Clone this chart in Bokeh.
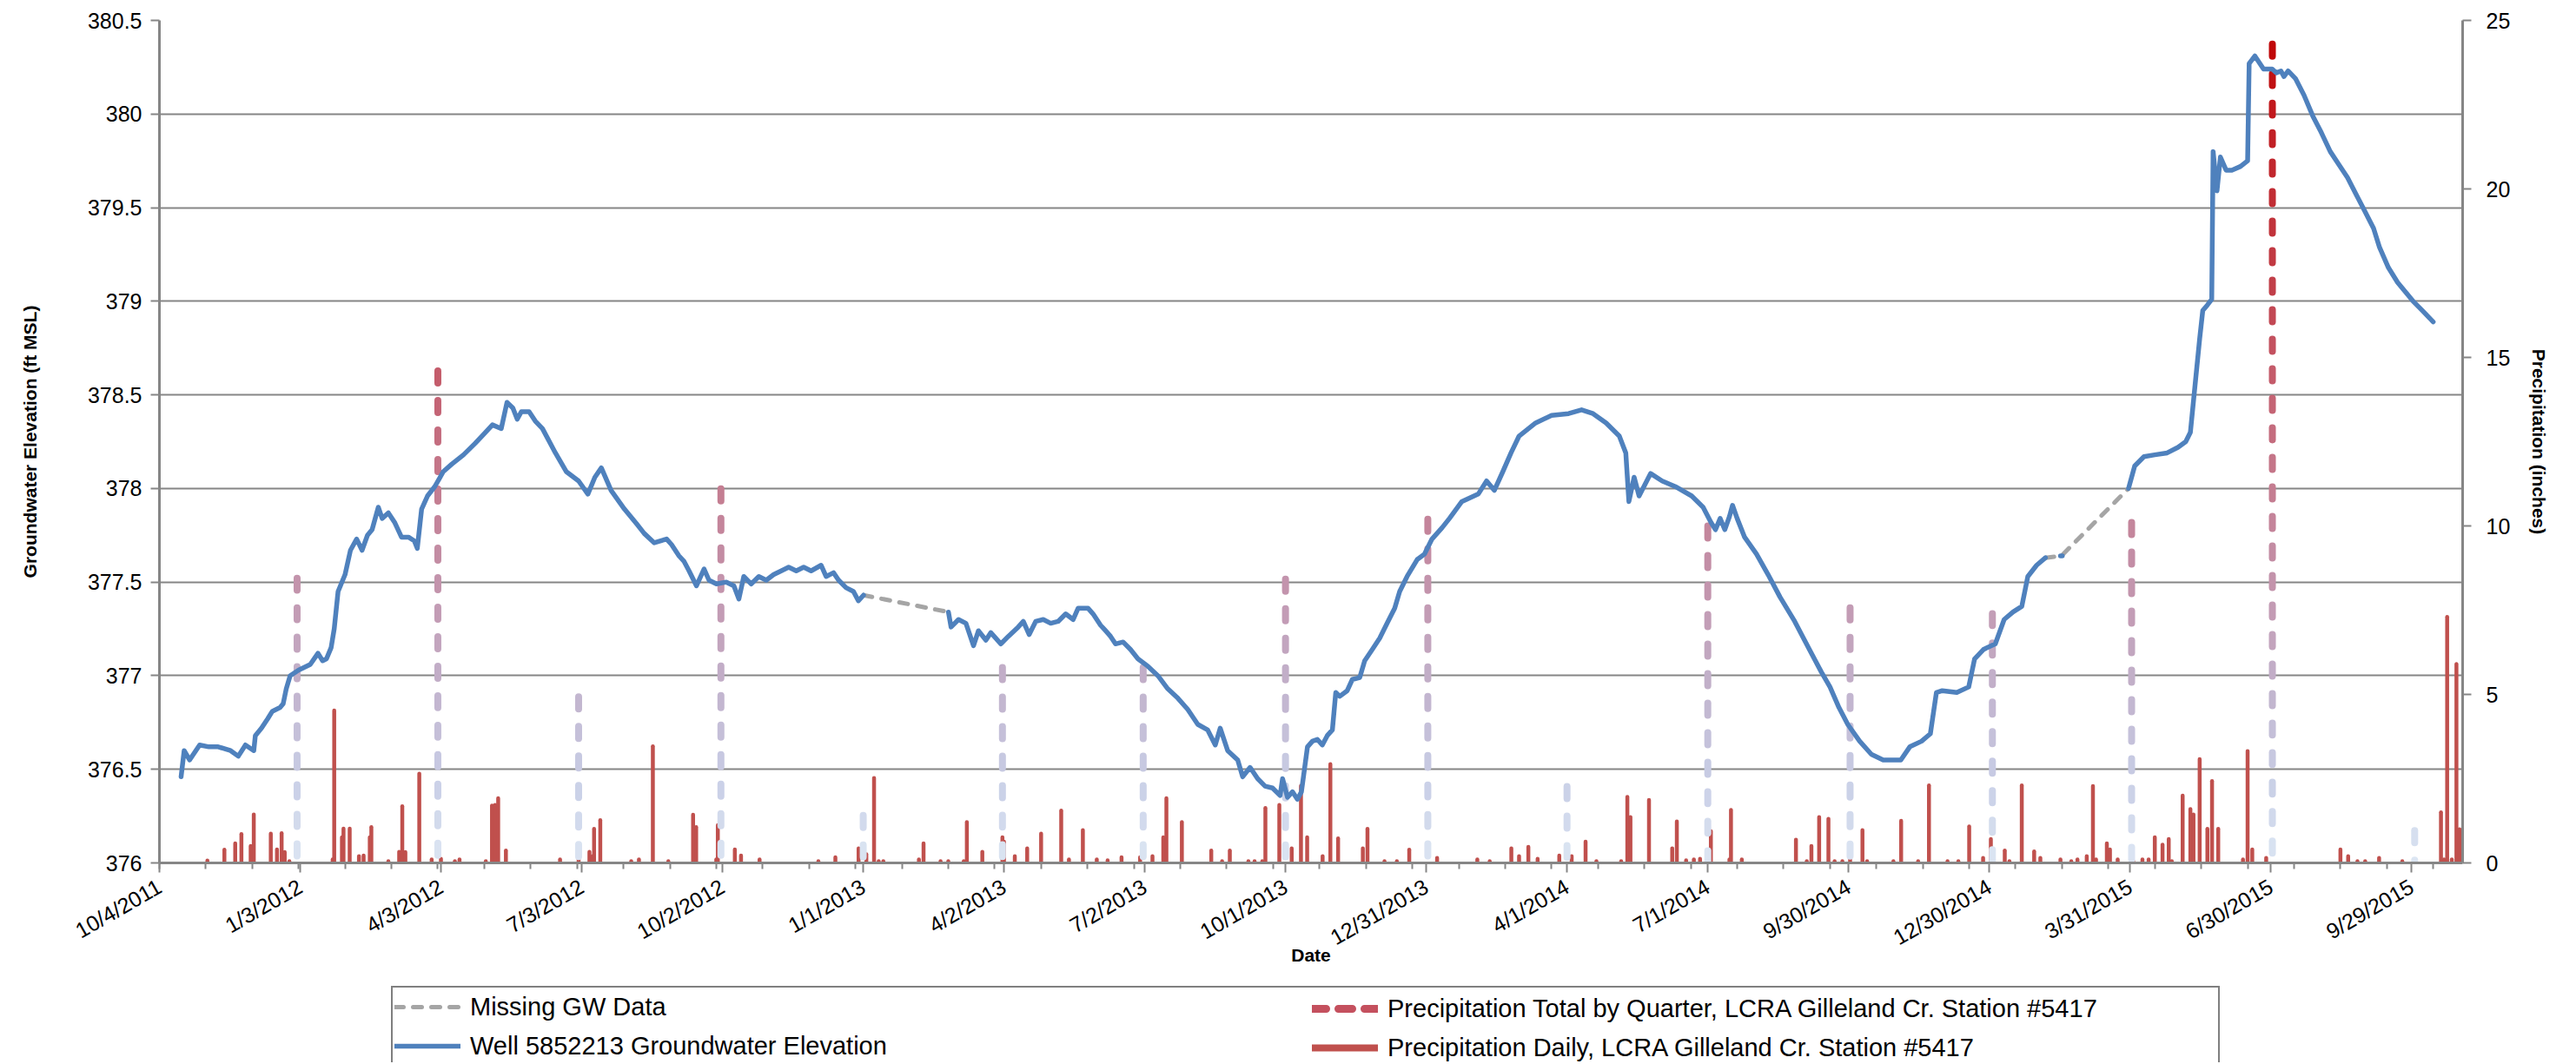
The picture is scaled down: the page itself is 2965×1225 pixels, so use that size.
import math
import numpy as np
from bokeh.plotting import figure
from bokeh.layouts import column
from bokeh.models import (Range1d, LinearAxis, FixedTicker, Legend, LegendItem,
                          ColumnDataSource)
from bokeh.embed import file_html
from bokeh.resources import INLINE

# ---------------- data (x = days since 10/4/2011) ----------------
X_MIN, X_MAX = 0, 1489
DATE_TICK_DAYS = [0, 91, 182, 273, 364, 455, 546, 637, 728, 819, 910, 1001, 1092, 1183, 1274, 1365, 1456]
DATE_TICK_LABELS = ["10/4/2011", "1/3/2012", "4/3/2012", "7/3/2012", "10/2/2012", "1/1/2013",
                    "4/2/2013", "7/2/2013", "10/1/2013", "12/31/2013", "4/1/2014", "7/1/2014",
                    "9/30/2014", "12/30/2014", "3/31/2015", "6/30/2015", "9/29/2015"]
MINOR_TICK_DAYS = list(range(0, 1490, 30))

GW_TICKS = [376.0, 376.5, 377.0, 377.5, 378.0, 378.5, 379.0, 379.5, 380.0, 380.5]
GW_TICK_LABELS = ["376", "376.5", "377", "377.5", "378", "378.5", "379", "379.5", "380", "380.5"]
PRECIP_TICKS = [0, 5, 10, 15, 20, 25]

# Well 5852213 groundwater elevation (ft MSL), measured segments
GW_A_DAY = [14, 16, 19.5, 26, 32, 38, 46, 51, 55.6, 61, 62, 66, 70, 73, 78, 80, 82, 84.5, 90, 97.5,
            102.5, 105.5, 108, 111, 113, 115.5, 120, 123.5, 127.5, 131, 134.5, 137.5, 141.5, 144, 148,
            152, 156.5, 161, 164.8, 166.7, 169.5, 173.3, 178, 183.5, 189, 196.6, 204, 209.7, 215.3, 221,
            224.7, 228.5, 231.3, 234, 239, 243, 247.6, 256, 263, 271, 277, 281.5, 285.7, 292, 300.6,
            308.6, 313.4, 319.9, 327.9, 331.1, 335.9, 339.2, 342.4, 347.2, 352.1, 355.3, 360.1, 366.5,
            371.4, 374.6, 377.8, 382.6, 387.5, 392.3, 397.1, 402, 406.8, 411.7, 416.5, 421.3, 427.8, 431,
            435.8, 439.1, 443.9, 448.7, 451.9, 455.2]
GW_A_FT = [376.46, 376.60, 376.55, 376.63, 376.62, 376.62, 376.60, 376.57, 376.63, 376.60, 376.68, 376.72,
           376.77, 376.81, 376.83, 376.85, 376.93, 377.00, 377.03, 377.06, 377.12, 377.08, 377.09, 377.15,
           377.25, 377.45, 377.54, 377.67, 377.73, 377.67, 377.75, 377.78, 377.90, 377.84, 377.87, 377.82,
           377.74, 377.74, 377.72, 377.68, 377.89, 377.96, 378.01, 378.09, 378.13, 378.18, 378.24, 378.29,
           378.34, 378.32, 378.46, 378.43, 378.37, 378.41, 378.41, 378.36, 378.32, 378.19, 378.09, 378.04,
           377.97, 378.06, 378.11, 377.99, 377.89, 377.81, 377.76, 377.71, 377.73, 377.70, 377.64, 377.61,
           377.56, 377.48, 377.57, 377.51, 377.49, 377.50, 377.48, 377.41, 377.53, 377.49, 377.53, 377.51,
           377.54, 377.56, 377.58, 377.56, 377.58, 377.56, 377.59, 377.53, 377.55, 377.51, 377.47, 377.45,
           377.40, 377.43]
GW_B_DAY = [510.1, 511.8, 516.6, 521.4, 526.3, 529.5, 534.3, 537.5, 544, 548.8,
            555.2, 558.5, 562.3, 566.5, 571.4, 576.2, 581, 585.9, 590.7, 593.9,
            600.4, 603.6, 608.4, 611.7, 614.9, 618.1, 623, 627.8, 632.6, 639.1,
            645.5, 651.9, 658.4, 664.8, 671.3, 677.7, 682.6, 685.8, 690.6, 697.1,
            700.3, 705.1, 710, 714.8, 719.6, 724.5, 726.1, 729.3, 732.5, 735.7,
            738.3, 742.2, 745.4, 748.6, 751.8, 755, 758.3, 760.5, 763.1, 767.9,
            771.2, 776, 779.2, 784.1, 788.9, 793.7, 798.6, 801.8, 806.6, 813.1,
            817.9, 822.7, 829.2, 834, 842, 852.6, 858, 863, 868.5, 873.8,
            879, 889.7, 900, 911, 919.4, 926.8, 935.3, 943.8, 948, 950,
            953.4, 956.6, 964, 971.5, 980, 990.6, 998, 1003, 1006, 1009,
            1012, 1015, 1017, 1020, 1024.8, 1032.5, 1040, 1047.7, 1057.2, 1066.7,
            1074.4, 1080, 1085.8, 1091.5, 1099.2, 1106.8, 1114.4, 1125.8, 1131.6, 1139.2,
            1144.9, 1148.8, 1152.6, 1162, 1169.7, 1173.5, 1179.2, 1186.9, 1192.6, 1198.3,
            1204, 1207.9, 1213.6, 1219.3]
GW_B_FT = [377.34, 377.26, 377.30, 377.28, 377.16, 377.24, 377.19, 377.23, 377.17, 377.21,
           377.26, 377.29, 377.22, 377.29, 377.30, 377.28, 377.29, 377.33, 377.30, 377.36,
           377.36, 377.33, 377.27, 377.24, 377.21, 377.17, 377.18, 377.14, 377.09, 377.05,
           377.00, 376.93, 376.88, 376.82, 376.74, 376.71, 376.63, 376.72, 376.60, 376.55,
           376.46, 376.51, 376.45, 376.41, 376.40, 376.36, 376.45, 376.35, 376.38, 376.34,
           376.38, 376.62, 376.65, 376.66, 376.63, 376.68, 376.71, 376.91, 376.89, 376.92,
           376.98, 376.99, 377.08, 377.14, 377.20, 377.28, 377.36, 377.45, 377.53, 377.62,
           377.65, 377.73, 377.79, 377.84, 377.93, 377.97, 378.04, 377.99, 378.09, 378.19,
           378.28, 378.35, 378.39, 378.40, 378.42, 378.40, 378.35, 378.28, 378.19, 377.93,
           378.06, 377.96, 378.08, 378.04, 378.01, 377.96, 377.90, 377.82, 377.78, 377.84,
           377.78, 377.85, 377.91, 377.84, 377.74, 377.65, 377.54, 377.42, 377.29, 377.14,
           377.02, 376.94, 376.83, 376.74, 376.65, 376.58, 376.55, 376.55, 376.62, 376.65,
           376.69, 376.91, 376.92, 376.91, 376.94, 377.09, 377.14, 377.17, 377.30, 377.34,
           377.37, 377.53, 377.59, 377.63]
GW_B2_DAY = [1229.0, 1230.2]
GW_B2_FT = [377.64, 377.64]
GW_C_DAY = [1273, 1277, 1283, 1290, 1298, 1305, 1310, 1313, 1316, 1319,
            1321, 1324, 1326.8, 1327.7, 1330.2, 1332.4, 1336.1, 1339.8, 1345.4, 1350,
            1351, 1354.7, 1360.3, 1365.9, 1368.5, 1371.5, 1373.5, 1376.2, 1380.9, 1386.5,
            1392.1, 1397.7, 1403.4, 1409, 1414.6, 1420.2, 1425.8, 1431.4, 1435.2, 1441,
            1447, 1452, 1457, 1463, 1470]
GW_C_FT = [378.00, 378.12, 378.17, 378.18, 378.19, 378.22, 378.25, 378.30, 378.55, 378.80,
           378.95, 378.98, 379.01, 379.80, 379.59, 379.77, 379.70, 379.70, 379.72, 379.75,
           380.27, 380.31, 380.24, 380.24, 380.22, 380.23, 380.20, 380.23, 380.19, 380.10,
           379.99, 379.90, 379.80, 379.73, 379.66, 379.57, 379.48, 379.39, 379.29, 379.18,
           379.10, 379.05, 379.00, 378.95, 378.89]

# Missing GW data (connecting gaps)
MISS_1_DAY = [455.2, 510.1]
MISS_1_FT = [377.43, 377.34]
MISS_2_DAY = [1219.3, 1229.6, 1273]
MISS_2_FT = [377.63, 377.64, 378.00]

# Precipitation total by quarter (inches)
Q_DAY = [89, 180, 271, 363, 455, 545, 636, 728, 820, 910, 1001, 1093, 1185, 1275, 1366, 1458]
Q_IN = [8.45, 14.6, 4.93, 11.1, 1.41, 5.8, 5.8, 8.42, 10.2, 2.27, 10.0, 7.57, 7.4, 10.1, 24.3, 0.96]

# Daily precipitation (day, inches)
DAILY = [(31, 0.07), (42, 0.39), (49, 0.58), (53, 0.86), (59, 0.5), (61, 1.44), (72, 0.87), (76, 0.4),
         (79, 0.88), (81, 0.32), (84, 0.05), (112, 0.1), (113, 4.52), (118, 0.76), (119, 1.02),
         (123, 1.02), (129, 0.2), (132, 0.22), (136, 0.76), (137, 1.06), (148, 0.05), (155, 0.33),
         (157, 1.68), (159, 0.32), (168, 2.65), (176, 0.1), (182, 0.12), (191, 0.05), (194, 0.1),
         (211, 0.05), (215, 1.7), (217, 1.72), (219, 1.92), (224, 0.37), (259, 0.1), (271, 0.17),
         (278, 0.33), (280, 0.2), (281, 1.01), (285, 1.27), (305, 0.05), (310, 0.1), (319, 3.46),
         (329, 0.05), (345, 1.43), (347, 1.06), (360, 0.1), (361, 1.12), (372, 0.4), (376, 0.22),
         (388, 0.1), (426, 0.05), (437, 0.17), (452, 0.43), (457, 0.26), (462, 2.52), (465, 0.05),
         (468, 0.05), (491, 0.1), (494, 0.58), (505, 0.05), (510, 0.05), (520, 0.05), (522, 1.21),
         (532, 0.33), (545, 0.76), (546, 0.63), (553, 0.2), (561, 0.43), (570, 0.87), (583, 1.55),
         (588, 0.1), (597, 0.97), (606, 0.1), (613, 0.08), (622, 0.17), (634, 0.17), (642, 0.2),
         (649, 0.76), (651, 1.92), (661, 1.21), (680, 0.37), (687, 0.05), (692, 0.37), (704, 0.05),
         (708, 0.05), (713, 0.05), (715, 1.63), (724, 1.72), (732, 0.43), (738, 2.29), (742, 0.76),
         (752, 0.2), (757, 2.93), (762, 0.73), (778, 0.43), (781, 1.01), (792, 0.05), (800, 0.05),
         (808, 0.39), (826, 0.15), (852, 0.1), (860, 0.05), (874, 0.43), (879, 0.2), (885, 0.48),
         (891, 0.12), (905, 0.22), (913, 0.2), (922, 0.63), (929, 0.05), (945, 0.05), (949, 1.96),
         (951, 1.36), (963, 1.87), (978, 0.43), (981, 1.23), (987, 0.08), (992, 0.1), (996, 0.12),
         (1003, 0.94), (1015, 0.1), (1016, 1.57), (1023, 0.1), (1058, 0.69), (1065, 0.05), (1068, 0.5),
         (1073, 1.36), (1079, 1.31), (1083, 0.05), (1088, 0.05), (1093, 0.43), (1101, 0.97),
         (1104, 0.05), (1121, 0.05), (1126, 1.25), (1137, 0.05), (1144, 2.3), (1156, 0.05),
         (1163, 0.05), (1170, 1.08), (1179, 0.15), (1184, 0.71), (1193, 0.37), (1196, 0.05),
         (1204, 2.3), (1212, 0.34), (1216, 0.15), (1229, 0.1), (1236, 0.05), (1240, 0.1), (1246, 0.2),
         (1250, 2.28), (1252, 0.1), (1259, 0.58), (1261, 0.4), (1266, 0.1), (1276, 0.05), (1282, 0.1),
         (1286, 0.1), (1290, 0.76), (1295, 0.54), (1299, 0.71), (1301, 0.05), (1308, 2.0), (1313, 1.6),
         (1315, 1.44), (1319, 3.08), (1324, 1.01), (1327, 2.43), (1331, 1.01), (1347, 0.1), (1350, 3.32),
         (1353, 0.4), (1362, 0.15), (1410, 0.4), (1415, 0.2), (1421, 0.05), (1426, 0.05), (1435, 0.15),
         (1450, 0.05), (1475, 1.5), (1477, 0.1), (1479, 7.3), (1482, 0.1), (1485, 5.9), (1487, 1.0)]
DAILY_DAY = [d for d, _ in DAILY]
DAILY_IN = [v for _, v in DAILY]

LEGEND_LEFT = ["Missing GW Data", "Well 5852213 Groundwater Elevation"]
LEGEND_RIGHT = ["Precipitation Total by Quarter, LCRA Gilleland Cr. Station #5417",
                "Precipitation Daily, LCRA Gilleland Cr. Station #5417"]

# ---------------- styles ----------------
FONT = "Liberation Sans"
AXIS_GREY = "#868686"
BLUE = "#4f81bd"
RED = "#c0504d"
GREY = "#a5a5a5"
Q_LEG = "#c4505e"
Q_DASH = 0.36     # inches of solid part of each dash of the quarterly bars
Q_PERIOD = 0.876  # inches between dash starts
GRAD_IN = [0, 2.5, 5, 8, 11, 14, 17, 21, 25]
GRAD_R = [220, 200, 194, 195, 196, 196, 193, 193, 192]
GRAD_G = [230, 206, 180, 150, 125, 96, 64, 36, 0]
GRAD_B = [243, 230, 206, 175, 145, 112, 74, 42, 0]

W = 2963
MAIN_H = 1132
LEG_H = 91
FRAME_LEFT, FRAME_RIGHT, FRAME_TOP, FRAME_BOTTOM = 183, 2834, 23, 993

p = figure(width=W, height=MAIN_H, output_backend="svg", toolbar_location=None,
           x_range=Range1d(X_MIN, X_MAX), y_range=Range1d(376, 380.5),
           min_border_left=FRAME_LEFT, min_border_right=W - FRAME_RIGHT,
           min_border_top=FRAME_TOP, min_border_bottom=MAIN_H - FRAME_BOTTOM,
           background_fill_color="white", border_fill_color="white", outline_line_color=None)
p.extra_y_ranges = {"precip": Range1d(0, 25)}

# x axis
xa = p.xaxis[0]
xa.ticker = FixedTicker(ticks=DATE_TICK_DAYS, minor_ticks=MINOR_TICK_DAYS)
xa.major_label_overrides = {d: s for d, s in zip(DATE_TICK_DAYS, DATE_TICK_LABELS)}
xa.major_label_orientation = math.pi / 6
xa.major_tick_out = 11
xa.major_tick_in = 0
xa.minor_tick_out = 7
xa.minor_tick_in = 0
xa.axis_line_color = AXIS_GREY
xa.axis_line_width = 3
xa.major_tick_line_color = AXIS_GREY
xa.major_tick_line_width = 2
xa.minor_tick_line_color = AXIS_GREY
xa.minor_tick_line_width = 2
xa.major_label_text_font = FONT
xa.major_label_text_font_size = "25px"
xa.major_label_text_color = "black"
xa.major_label_standoff = 14
xa.axis_label = "Date"
xa.axis_label_text_font = FONT
xa.axis_label_text_font_style = "bold"
xa.axis_label_text_font_size = "21px"
xa.axis_label_text_color = "black"
try:
    xa.axis_label_standoff = -20
except Exception:
    xa.axis_label_standoff = 0

# left axis
ya = p.yaxis[0]
ya.ticker = FixedTicker(ticks=GW_TICKS, minor_ticks=[])
ya.major_label_overrides = {t: s for t, s in zip(GW_TICKS, GW_TICK_LABELS)}
ya.axis_label = "Groundwater Elevation (ft MSL)"
ya.axis_label_text_font = FONT
ya.axis_label_text_font_style = "bold"
ya.axis_label_text_font_size = "21px"
ya.axis_label_text_color = "black"
ya.axis_label_standoff = 52
ya.major_tick_out = 10
ya.major_tick_in = 0
ya.minor_tick_out = 0
ya.axis_line_color = AXIS_GREY
ya.axis_line_width = 3
ya.major_tick_line_color = AXIS_GREY
ya.major_tick_line_width = 2
ya.major_label_text_font = FONT
ya.major_label_text_font_size = "25px"
ya.major_label_text_color = "black"
ya.major_label_standoff = 10

p.xgrid.visible = False
p.ygrid[0].grid_line_color = AXIS_GREY
p.ygrid[0].grid_line_width = 2

# right axis
ra = LinearAxis(y_range_name="precip", ticker=FixedTicker(ticks=PRECIP_TICKS, minor_ticks=[]))
ra.major_tick_out = 10
ra.major_tick_in = 0
ra.minor_tick_out = 0
ra.axis_line_color = AXIS_GREY
ra.axis_line_width = 3
ra.major_tick_line_color = AXIS_GREY
ra.major_tick_line_width = 2
ra.major_label_text_font = FONT
ra.major_label_text_font_size = "25px"
ra.major_label_text_color = "black"
ra.major_label_standoff = 17
ra.axis_label = "Precipitation (inches)"
ra.axis_label_text_font = FONT
ra.axis_label_text_font_style = "bold"
ra.axis_label_text_font_size = "21px"
ra.axis_label_text_color = "black"
ra.axis_label_standoff = 19
p.add_layout(ra, "right")

# ---------------- glyphs ----------------
daily_style = dict(line_color=RED, line_width=4.5, line_cap="round")
p.segment(x0=DAILY_DAY, y0=0, x1=DAILY_DAY, y1=DAILY_IN, y_range_name="precip", **daily_style)

qx, qy0, qy1, qc = [], [], [], []
for day, total in zip(Q_DAY, Q_IN):
    top = total
    while top > 0:
        bot = max(top - Q_DASH, 0.0)
        mid = 0.5 * (top + bot)
        rgb = [int(round(np.interp(mid, GRAD_IN, ch))) for ch in (GRAD_R, GRAD_G, GRAD_B)]
        qx.append(day)
        qy0.append(bot)
        qy1.append(top)
        qc.append("#%02x%02x%02x" % tuple(rgb))
        top -= Q_PERIOD
qsrc = ColumnDataSource(dict(x=qx, y0=qy0, y1=qy1, c=qc))
p.segment(x0="x", y0="y0", x1="x", y1="y1", source=qsrc, y_range_name="precip",
          line_color="c", line_width=8, line_cap="round")

nan = float("nan")
miss_style = dict(line_color=GREY, line_width=5, line_dash="10 11", line_cap="round")
gw_style = dict(line_color=BLUE, line_width=5.5, line_join="round", line_cap="round")
q_style = dict(line_color=Q_LEG, line_width=9, line_dash="16 14", line_cap="round")

p.line(MISS_1_DAY + [nan] + MISS_2_DAY, MISS_1_FT + [nan] + MISS_2_FT, **miss_style)
gw_x = GW_A_DAY + [nan] + GW_B_DAY + [nan] + GW_B2_DAY + [nan] + GW_C_DAY
gw_y = GW_A_FT + [nan] + GW_B_FT + [nan] + GW_B2_FT + [nan] + GW_C_FT
p.line(gw_x, gw_y, **gw_style)

# ---------------- legend strip (separate figure directly below) ----------------
lf = figure(width=W, height=LEG_H, output_backend="svg", toolbar_location=None,
            x_range=Range1d(0, 1), y_range=Range1d(0, 1), x_axis_location=None, y_axis_location=None,
            min_border=0, min_border_left=FRAME_LEFT, min_border_right=W - FRAME_RIGHT,
            min_border_top=0, min_border_bottom=0,
            background_fill_color="white", border_fill_color="white", outline_line_color=None)
lf.xgrid.visible = False
lf.ygrid.visible = False
# legend-only proxies (a single NaN point draws nothing in the strip)
lr_miss = lf.line(x=[nan], y=[nan], **miss_style)
lr_gw = lf.line(x=[nan], y=[nan], **gw_style)
lr_q = lf.line(x=[nan], y=[nan], **q_style)
lr_daily = lf.line(x=[nan], y=[nan], line_color=RED, line_width=8, line_cap="round")

PAD, ROW, GAP = 2, 40, 5
common = dict(orientation="vertical", label_text_font=FONT, label_text_font_size="29px",
              label_text_color="black", glyph_width=76, glyph_height=ROW, label_height=ROW,
              label_standoff=11, spacing=GAP, padding=PAD, margin=0, background_fill_alpha=0)
leg_h = 2 * PAD + 2 * ROW + GAP
top_y = LEG_H - leg_h - 7          # keeps the box's top edge just inside the strip
BOX_LEFT, COL2_BOX_LEFT = 450, 1508
leg_left = Legend(items=[LegendItem(label=LEGEND_LEFT[0], renderers=[lr_miss]),
                         LegendItem(label=LEGEND_LEFT[1], renderers=[lr_gw])],
                  location=(BOX_LEFT - FRAME_LEFT, top_y), label_width=2010,
                  border_line_color="black", border_line_width=2, **common)
leg_right = Legend(items=[LegendItem(label=LEGEND_RIGHT[0], renderers=[lr_q]),
                          LegendItem(label=LEGEND_RIGHT[1], renderers=[lr_daily])],
                   location=(COL2_BOX_LEFT - FRAME_LEFT, top_y), border_line_alpha=0, **common)
lf.add_layout(leg_left)
lf.add_layout(leg_right)

open("out.html", "w").write(file_html(column(p, lf, spacing=0), INLINE))
